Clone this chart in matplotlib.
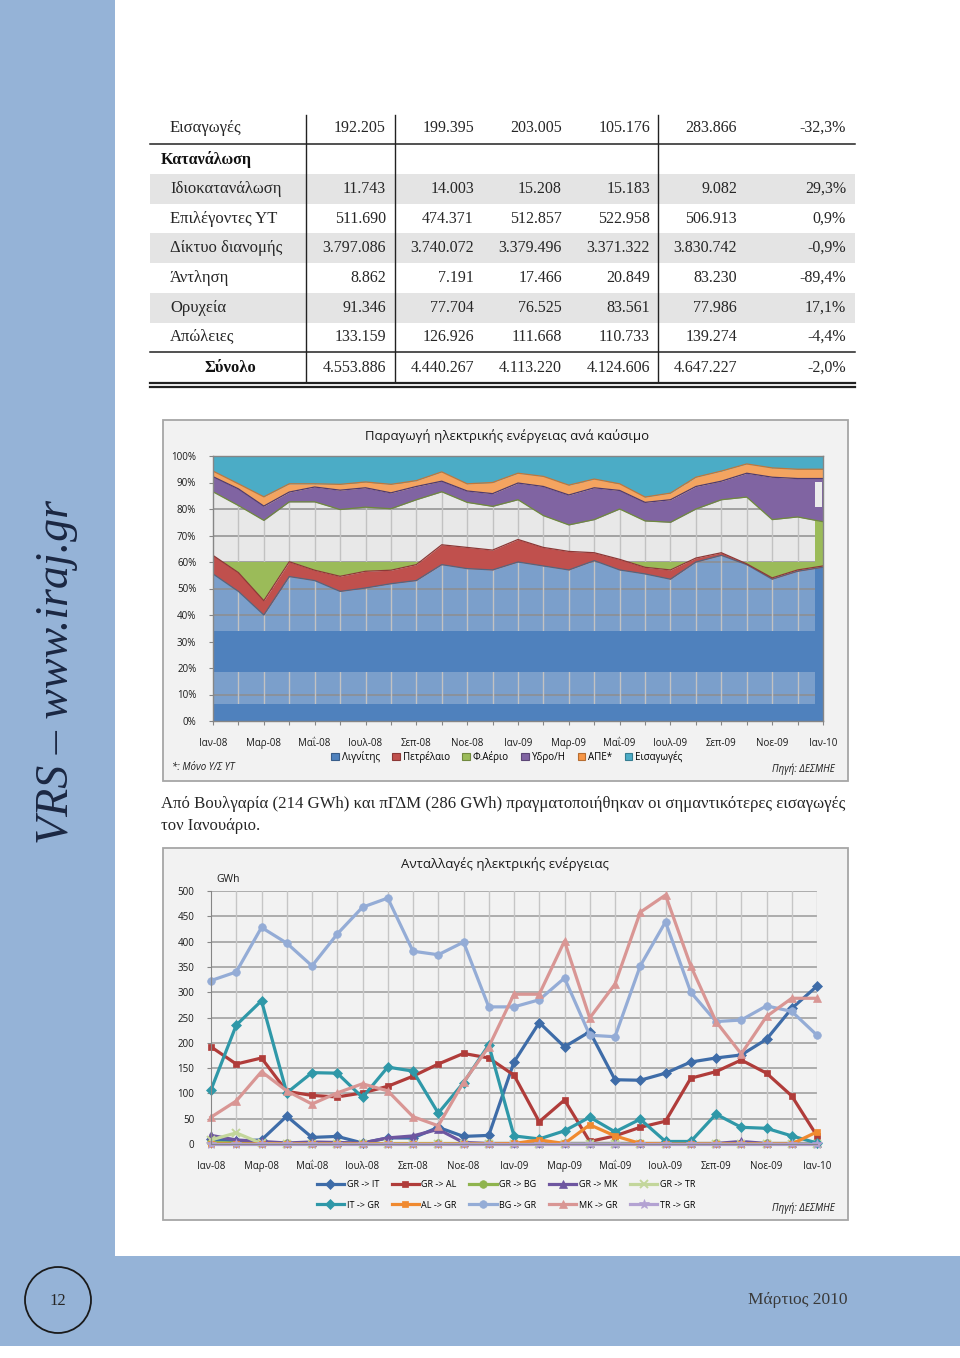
import numpy as np
import matplotlib
matplotlib.use('Agg')
import matplotlib.pyplot as plt
from matplotlib.patches import Rectangle, Circle, Patch
from matplotlib.lines import Line2D

W, H = 960, 1358
SANS = ['Open Sans', 'DejaVu Sans']
SERIF = ['Liberation Serif', 'DejaVu Serif']
plt.rcParams['font.family'] = SANS

# ---------------- table data ----------------
table_labels = ["Εισαγωγές", "Κατανάλωση", "Ιδιοκατανάλωση", "Επιλέγοντες ΥΤ",
                "Δίκτυο διανομής", "Άντληση", "Ορυχεία", "Απώλειες", "Σύνολο"]
table_col1 = ["192.205", "", "11.743", "511.690", "3.797.086", "8.862", "91.346", "133.159", "4.553.886"]
table_col2 = ["199.395", "", "14.003", "474.371", "3.740.072", "7.191", "77.704", "126.926", "4.440.267"]
table_col3 = ["203.005", "", "15.208", "512.857", "3.379.496", "17.466", "76.525", "111.668", "4.113.220"]
table_col4 = ["105.176", "", "15.183", "522.958", "3.371.322", "20.849", "83.561", "110.733", "4.124.606"]
table_col5 = ["283.866", "", "9.082", "506.913", "3.830.742", "83.230", "77.986", "139.274", "4.647.227"]
table_change = ["-32,3%", "", "29,3%", "0,9%", "-0,9%", "-89,4%", "17,1%", "-4,4%", "-2,0%"]

# ---------------- chart 1: generation share by fuel (%) ----------------
month_ticks = ['Ιαν-08', 'Μαρ-08', 'Μαΐ-08', 'Ιουλ-08', 'Σεπ-08', 'Νοε-08', 'Ιαν-09',
               'Μαρ-09', 'Μαΐ-09', 'Ιουλ-09', 'Σεπ-09', 'Νοε-09', 'Ιαν-10']
fuel_names = ['Λιγνίτης', 'Πετρέλαιο', 'Φ.Αέριο', 'Υδρο/Η', 'ΑΠΕ*', 'Εισαγωγές']
lignite = [55.5, 48.9, 40.0, 54.5, 53.0, 48.9, 50.2, 51.8, 53.0, 59.0, 57.5, 57.0, 60.0,
           58.5, 57.0, 60.5, 57.0, 55.5, 53.5, 60.0, 62.5, 59.0, 53.5, 56.5, 58.0]
oil = [7.0, 7.1, 5.4, 5.6, 3.9, 5.7, 6.3, 5.1, 6.0, 7.5, 8.0, 7.5, 8.5,
       7.0, 7.0, 3.0, 4.0, 2.5, 3.5, 1.5, 1.0, 0.3, 0.5, 0.5, 0.5]
gas = [24.0, 25.3, 30.3, 22.6, 25.8, 25.2, 24.2, 23.2, 24.5, 20.0, 17.0, 16.5, 15.0,
       12.0, 10.0, 12.5, 19.0, 17.5, 18.0, 18.5, 20.0, 25.2, 22.0, 20.0, 16.7]
hydro = [5.7, 6.3, 5.4, 3.7, 5.6, 7.3, 7.3, 6.0, 5.0, 4.0, 4.3, 4.8, 6.3,
         11.0, 11.3, 12.0, 7.0, 7.0, 8.5, 8.5, 7.0, 9.0, 16.0, 14.5, 16.3]
res = [2.1, 1.9, 3.5, 3.1, 1.2, 2.2, 2.2, 3.2, 2.2, 3.5, 2.7, 4.2, 3.7,
       3.8, 3.7, 3.3, 2.5, 2.0, 2.5, 3.5, 3.8, 3.5, 3.5, 3.5, 3.5]
imports = [5.7, 10.5, 15.4, 10.5, 10.5, 10.7, 9.8, 10.7, 9.3, 6.0, 10.5, 10.0, 6.5,
           7.7, 11.0, 8.7, 10.5, 15.5, 14.0, 8.0, 5.7, 3.0, 4.5, 5.0, 5.0]

# ---------------- chart 2: electricity exchanges (GWh) ----------------
gr_it = [10, 6, 8, 55, 13, 15, 2, 12, 12, 33, 15, 17, 162, 240, 192, 222, 127, 126, 140, 162, 170, 176, 207, 268, 312]
gr_al = [192, 158, 170, 104, 96, 93, 101, 114, 134, 158, 179, 170, 136, 44, 87, 5, 16, 33, 45, 130, 143, 166, 140, 95, 16]
gr_bg = [3, 2, 1, 1, 1, 1, 1, 1, 1, 1, 1, 1, 1, 1, 1, 1, 1, 1, 1, 1, 1, 1, 1, 1, 1]
gr_mk = [17, 8, 5, 2, 4, 3, 2, 12, 16, 29, 3, 1, 1, 1, 1, 1, 1, 1, 1, 1, 1, 5, 1, 1, 1]
gr_tr = [8, 22, 1, 0, 0, 0, 0, 0, 0, 0, 0, 0, 0, 0, 0, 0, 0, 0, 0, 0, 0, 0, 0, 0, 0]
it_gr = [107, 235, 283, 101, 141, 140, 92, 152, 144, 61, 121, 196, 16, 10, 26, 53, 24, 49, 5, 5, 59, 33, 31, 16, 2]
al_gr = [0, 0, 0, 0, 0, 0, 0, 0, 0, 0, 0, 0, 1, 8, 1, 38, 16, 1, 0, 0, 0, 0, 0, 0, 24]
bg_gr = [323, 340, 428, 397, 352, 415, 468, 486, 381, 374, 399, 271, 271, 285, 328, 215, 212, 352, 439, 300, 242, 245, 273, 262, 215]
mk_gr = [53, 85, 143, 105, 79, 101, 119, 105, 54, 36, 122, 192, 296, 296, 401, 249, 316, 458, 492, 352, 242, 178, 252, 288, 288]
tr_gr = [0, 0, 0, 0, 0, 0, 0, 0, 0, 0, 0, 0, 0, 0, 0, 0, 0, 0, 0, 0, 0, 0, 0, 0, 0]

exch_names = ['GR -> IT', 'GR -> AL', 'GR -> BG', 'GR -> MK', 'GR -> TR',
              'IT -> GR', 'AL -> GR', 'BG -> GR', 'MK -> GR', 'TR -> GR']
exch_values = [gr_it, gr_al, gr_bg, gr_mk, gr_tr, it_gr, al_gr, bg_gr, mk_gr, tr_gr]
exch_colors = ['#3e6ca8', '#b03c3a', '#8fb44e', '#6e56a0', '#c3d69b',
               '#2f98a8', '#f08a30', '#94acd6', '#d99694', '#b3a2d2']
exch_markers = ['D', 's', 'o', '^', 'x', 'D', 's', 'o', '^', '*']

SIDE = '#95b3d7'
TXT = '#262626'

fig = plt.figure(figsize=(W / 100, H / 100), dpi=100)
fig.patch.set_facecolor('white')


def px_axes(x0, y0, x1, y1):
    return fig.add_axes([x0 / W, 1 - y1 / H, (x1 - x0) / W, (y1 - y0) / H])


bg = fig.add_axes([0, 0, 1, 1])
bg.set_xlim(0, W)
bg.set_ylim(H, 0)
bg.axis('off')

# page decoration
bg.add_patch(Rectangle((0, 0), 115, 1257, color=SIDE, lw=0))
bg.add_patch(Rectangle((0, 1256), W, 90, color=SIDE, lw=0))
bg.add_patch(Circle((58, 1300), 33, fill=False, ec='#1a1a1a', lw=1.3))
bg.text(58, 1301, '12', ha='center', va='center', fontsize=12, family=SERIF, color=TXT)
bg.text(798, 1300, 'Μάρτιος 2010', ha='center', va='center', fontsize=12.5, family=SERIF, color='#3a3a3a')
side_t = bg.text(57, 672, 'VRS – www.iraj.gr', rotation=90, ha='center', va='center',
                 fontsize=32, style='italic', family=SERIF, color='#1b2742')

# ---------------- table ----------------
row_y = [128, 160, 189, 219, 248, 278, 308, 337, 368]
for k in (2, 4, 6):
    bg.add_patch(Rectangle((150, row_y[k] - 15), 705, 30, color='#e4e4e4', lw=0))
for yy in (144, 352, 382.5, 386.5):
    bg.plot([150, 855], [yy, yy], color='#222222', lw=1.1 if yy < 380 else 1.6)
for xx in (306, 395, 658):
    bg.plot([xx, xx], [115, 382], color='#222222', lw=1.0)

col_right = [386, 474, 562, 650, 737, 846]
cols = [table_col1, table_col2, table_col3, table_col4, table_col5, table_change]
for i, lab in enumerate(table_labels):
    if lab == 'Κατανάλωση':
        bg.text(161, row_y[i], lab, ha='left', va='center', fontsize=11.5, family=SERIF,
                weight='bold', color='#111111')
    elif lab == 'Σύνολο':
        bg.text(230, row_y[i], lab, ha='center', va='center', fontsize=12, family=SERIF,
                weight='bold', color='#111111')
    else:
        bg.text(170, row_y[i], lab, ha='left', va='center', fontsize=12, family=SERIF, color=TXT)
    for c, xr in zip(cols, col_right):
        if c[i]:
            bg.text(xr, row_y[i], c[i], ha='right', va='center', fontsize=11.5,
                    family=SERIF, color=TXT)

# paragraph
para1 = bg.text(161, 804, 'Από Βουλγαρία (214 GWh) και πΓΔΜ (286 GWh) πραγματοποιήθηκαν οι σημαντικότερες εισαγωγές',
                ha='left', va='center', fontsize=12, family=SERIF, color=TXT)
bg.text(161, 826, 'τον Ιανουάριο.', ha='left', va='center', fontsize=para1.get_fontsize(),
        family=SERIF, color=TXT)

# chart boxes
BOX = '#f2f2f2'
bg.add_patch(Rectangle((163, 420), 685, 361, fc=BOX, ec='#a6a6a6', lw=1.3))
bg.add_patch(Rectangle((163, 848), 685, 372, fc=BOX, ec='#a6a6a6', lw=1.3))

# ---------------- chart 1 ----------------
ax1 = px_axes(213, 456, 823, 721)
ax1.set_facecolor(BOX)
x = np.arange(len(lignite))
shares = np.array([lignite, oil, gas, hydro, res, imports])
cum = np.cumsum(shares, axis=0)
ax1.set_xlim(0, 24)
ax1.set_ylim(0, 100)
XCUT = 23.68

for yy in range(10, 100, 10):
    ax1.axhline(yy, color='#8e8e8e', lw=1.1, zorder=1.5)
for xi in x[1:-1]:
    ax1.axvline(xi, color='#c2c2c2', lw=1.0, zorder=1.5)

clip_left = Rectangle((0, 0), XCUT, 100, transform=ax1.transData)
clip_right = Rectangle((XCUT, 0), 24 - XCUT, 100, transform=ax1.transData)

g = ax1.fill_between(x, 60, cum[2], color='#e8e8e8', lw=0, zorder=1)
g.set_clip_path(clip_left)
ax1.fill_between(x, 0, cum[0], color='#7b9fcb', lw=0, zorder=1)
for lo, hi in ((0, 6.6), (18.5, 34)):
    ax1.fill_between([0, XCUT], [lo, lo], [hi, hi], color='#4f81bd', lw=0, zorder=2)
d = ax1.fill_between(x, 0, cum[0], color='#4f81bd', lw=0, zorder=2)
d.set_clip_path(clip_right)
ax1.fill_between(x, cum[0], cum[1], color='#c0504d', lw=0, zorder=2)
ax1.fill_between(x, cum[1], 60, where=cum[1] < 60, interpolate=True, color='#9bbb59', lw=0, zorder=2)
gr = ax1.fill_between(x, cum[1], cum[2], color='#9bbb59', lw=0, zorder=2)
gr.set_clip_path(clip_right)
ax1.fill_between(x, cum[2], cum[3], color='#8064a2', lw=0, zorder=2)
ax1.fill_between(x, cum[3], cum[4], color='#f4a460', lw=0, zorder=2)
ax1.fill_between(x, cum[4], 100, color='#4bacc6', lw=0, zorder=2)
ax1.add_patch(Rectangle((XCUT, 80.8), 0.27, 9.4, fc='#ececec', lw=0, zorder=3))
edge_cols = ['#55657e', '#8c3836', '#6f8a3d', '#4e3a6e', '#c0763a']
for k in range(5):
    ax1.plot(x, cum[k], color=edge_cols[k], lw=0.9, zorder=2.6)

for s in ax1.spines.values():
    s.set_color('#868686')
    s.set_linewidth(1.0)
    s.set_zorder(4)
ax1.set_yticks(range(0, 101, 10))
ax1.set_yticklabels([f'{v}%' for v in range(0, 101, 10)])
ax1.set_xticks(x)
ax1.set_xticklabels([month_ticks[i // 2] if i % 2 == 0 else '' for i in x])
ax1.tick_params(axis='both', labelsize=7, colors='#868686', labelcolor='#1a1a1a', length=3, width=0.8)
ax1.tick_params(axis='x', pad=9)
ax1.tick_params(axis='y', pad=9)

fig.text(507 / W, 1 - 436 / H, 'Παραγωγή ηλεκτρικής ενέργειας ανά καύσιμο', ha='center', va='center',
         fontsize=9.5, color='#1a1a1a')
fuel_cols = ['#4f81bd', '#c0504d', '#9bbb59', '#8064a2', '#f79646', '#4bacc6']
fuel_edges = ['#385d8a', '#8c3836', '#71893f', '#5c4776', '#b66d31', '#357d91']
h1 = [Patch(fc=c, ec=e, lw=0.8) for c, e in zip(fuel_cols, fuel_edges)]
fig.legend(h1, fuel_names, loc='center', bbox_to_anchor=(507 / W, 1 - 757 / H), ncol=6,
           frameon=False, fontsize=7, handlelength=0.75, handleheight=0.75,
           handletextpad=0.3, columnspacing=1.3, borderpad=0)
fig.text(172 / W, 1 - 768 / H, '*: Μόνο Υ/Σ ΥΤ', ha='left', va='center', fontsize=7, style='italic', color='#1a1a1a')
fig.text(835 / W, 1 - 769 / H, 'Πηγή: ΔΕΣΜΗΕ', ha='right', va='center', fontsize=7, style='italic', color='#1a1a1a')

# ---------------- chart 2 ----------------
ax2 = px_axes(211, 891, 817, 1144)
ax2.set_facecolor(BOX)
ax2.set_xlim(0, 24)
ax2.set_ylim(0, 500)
for yy in range(50, 501, 50):
    ax2.axhline(yy, color='#9a9a9a', lw=1.1, zorder=0.5)
for xi in x[1:]:
    ax2.axvline(xi, color='#c6c6c6', lw=1.0, zorder=0.5)
handles = []
for name, vals, col, mk in zip(exch_names, exch_values, exch_colors, exch_markers):
    ms = 5 if mk in ('D', 's') else (7.5 if mk == '*' else 5.5)
    ln, = ax2.plot(x, vals, color=col, lw=2.3, marker=mk, ms=ms, mfc=col, mec=col,
                   mew=1.4 if mk == 'x' else 0.5, zorder=2, clip_on=False)
    handles.append(ln)
for s in ax2.spines.values():
    s.set_visible(False)
ax2.spines['left'].set_visible(True)
ax2.spines['left'].set_color('#868686')
ax2.spines['bottom'].set_visible(True)
ax2.spines['bottom'].set_color('#868686')
ax2.set_yticks(range(0, 501, 50))
ax2.set_xticks(x)
ax2.set_xticklabels([month_ticks[i // 2] if i % 2 == 0 else '' for i in x])
ax2.tick_params(axis='both', labelsize=7, colors='#868686', labelcolor='#1a1a1a', length=3, width=0.8)
ax2.tick_params(axis='x', pad=9)
ax2.tick_params(axis='y', pad=9)
fig.text(505 / W, 1 - 864 / H, 'Ανταλλαγές ηλεκτρικής ενέργειας', ha='center', va='center',
         fontsize=9.5, color='#1a1a1a')
fig.text(228 / W, 1 - 880 / H, 'GWh', ha='center', va='center', fontsize=7.5, color='#1a1a1a')
order = [0, 5, 1, 6, 2, 7, 3, 8, 4, 9]
fig.legend([handles[i] for i in order], [exch_names[i] for i in order], loc='center',
           bbox_to_anchor=(506 / W, 1 - 1195 / H), ncol=5, frameon=False, fontsize=6.5,
           handlelength=3.0, handletextpad=0.3, columnspacing=1.4, labelspacing=1.25, borderpad=0)
fig.text(835 / W, 1 - 1208 / H, 'Πηγή: ΔΕΣΜΗΕ', ha='right', va='center', fontsize=7, style='italic', color='#1a1a1a')

# fit paragraph and sidebar text to the reference widths
fig.canvas.draw()
r = fig.canvas.get_renderer()
bb = para1.get_window_extent(r)
fs = para1.get_fontsize() * 685 / bb.width
para1.set_fontsize(fs)
bb = side_t.get_window_extent(r)
side_t.set_fontsize(side_t.get_fontsize() * 345 / bb.height)

fig.savefig('out.png', dpi=100)
